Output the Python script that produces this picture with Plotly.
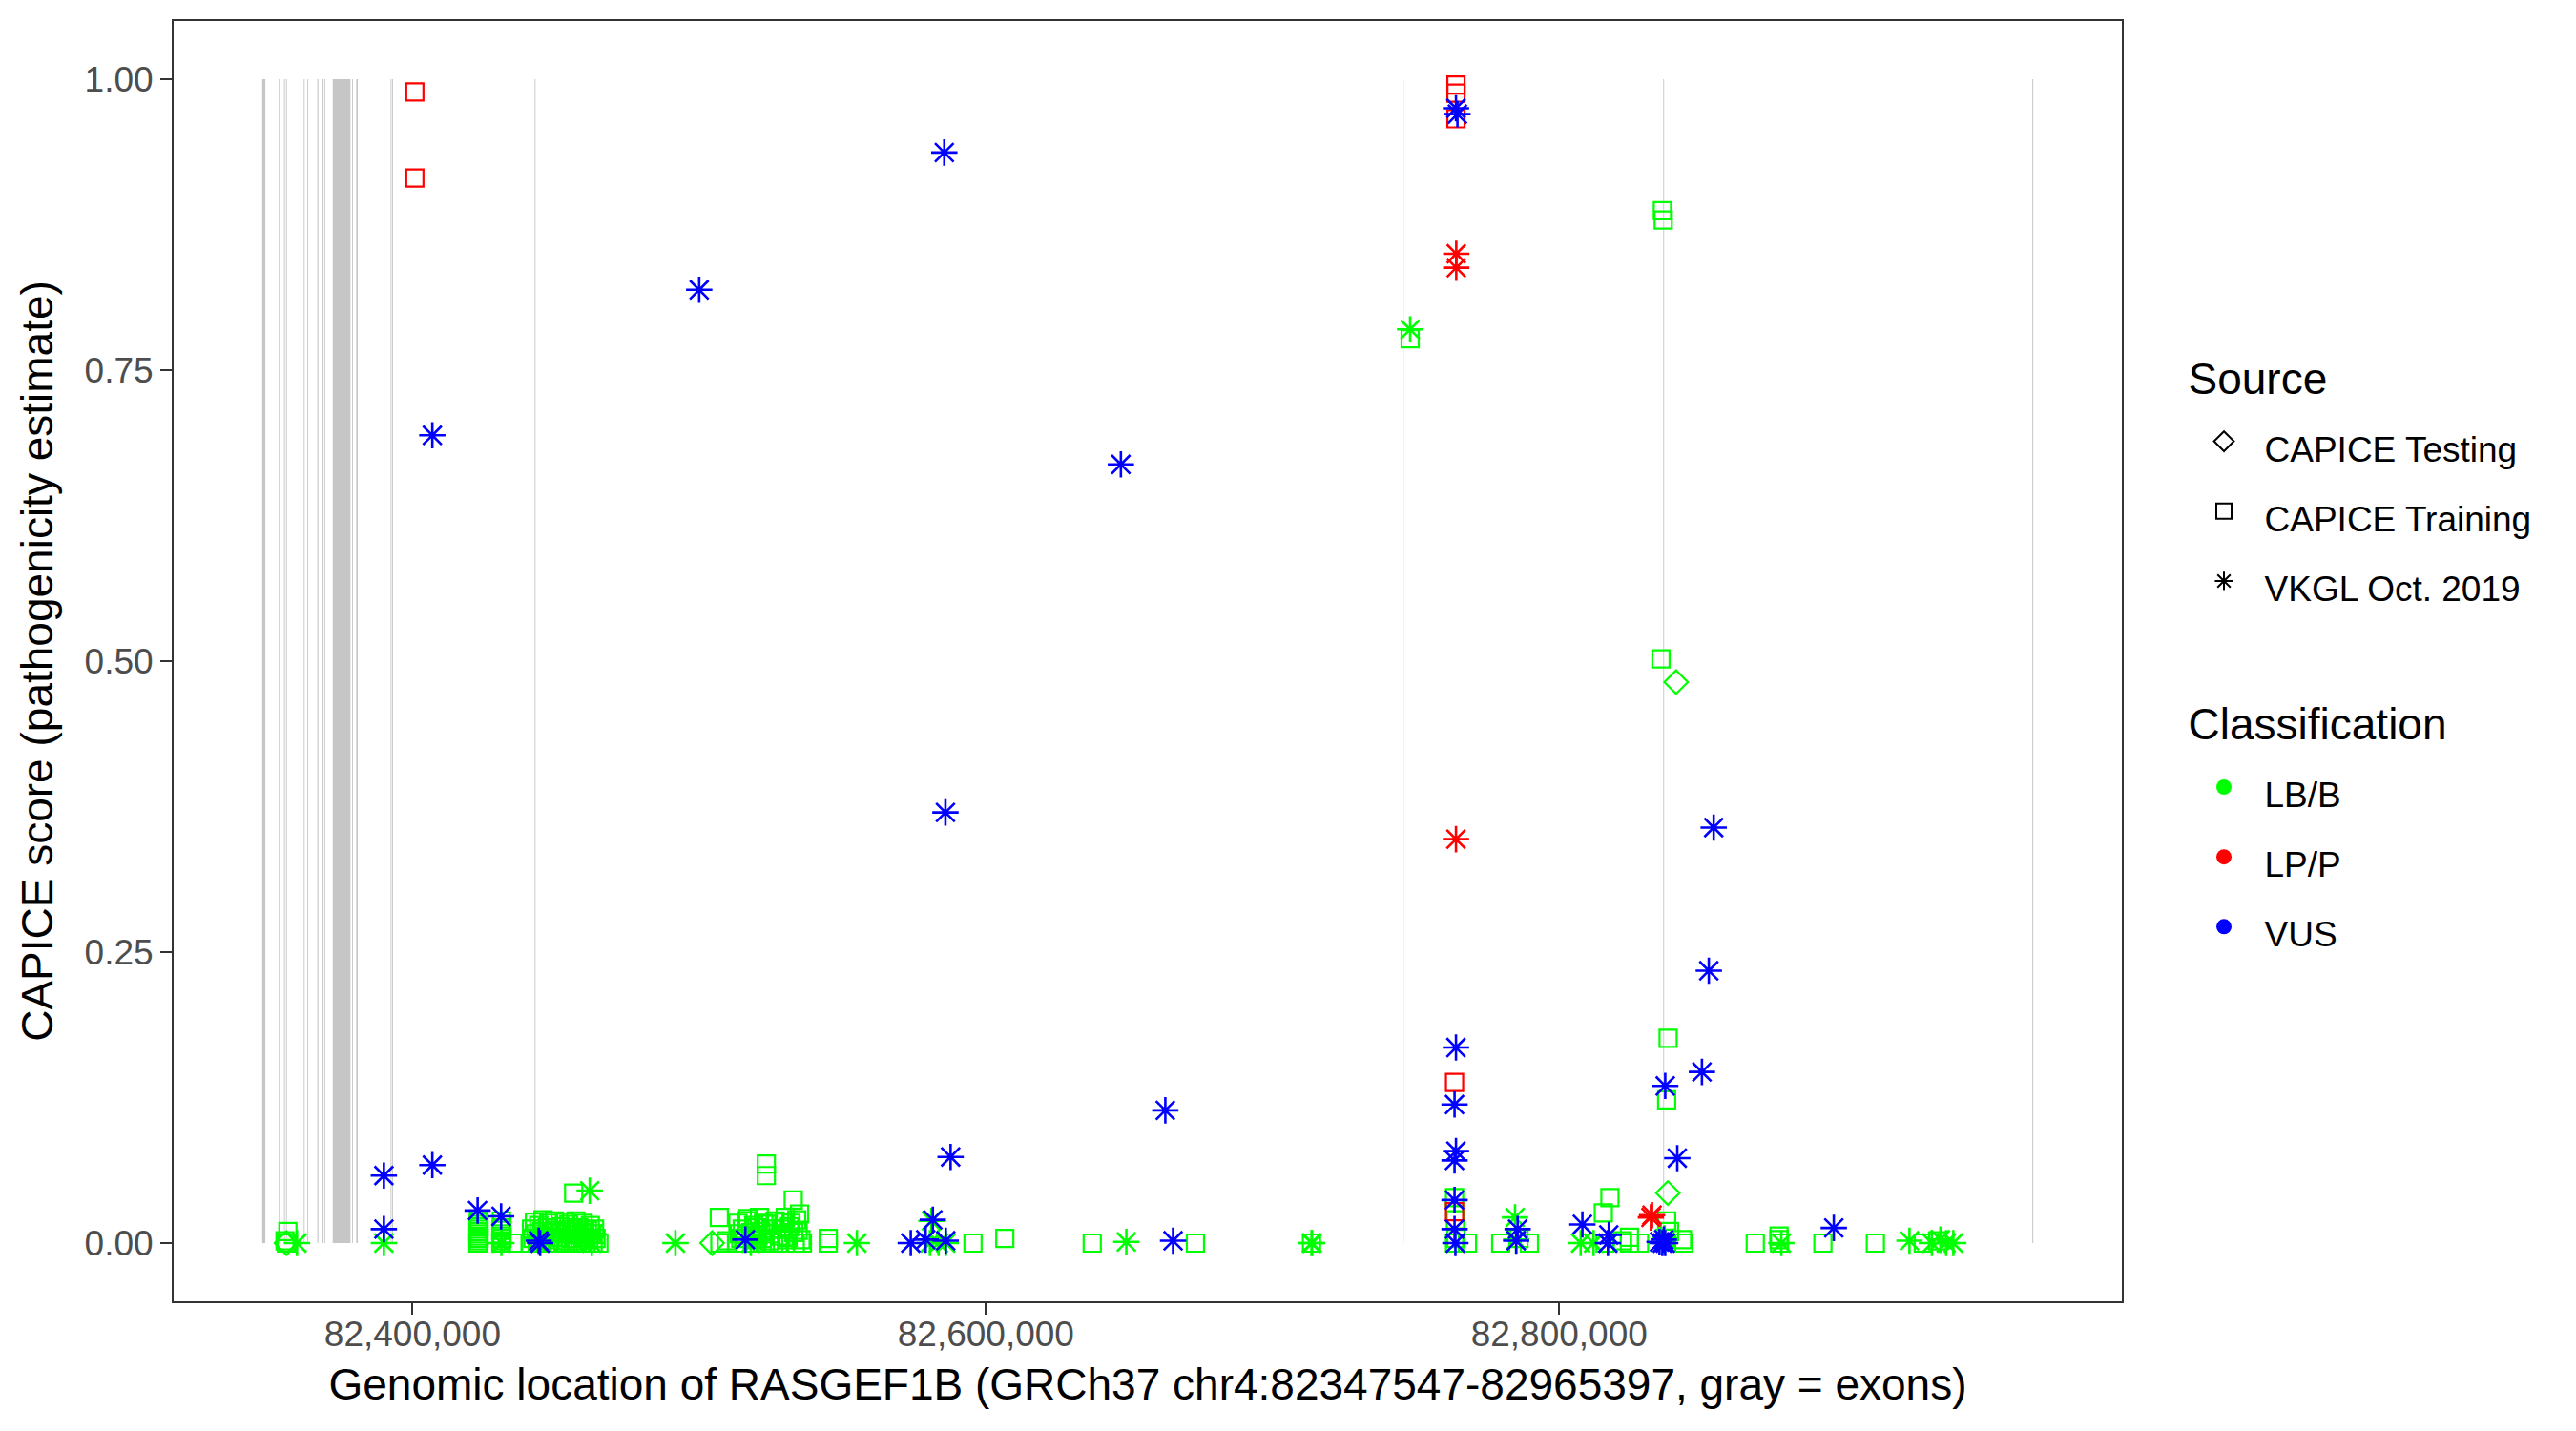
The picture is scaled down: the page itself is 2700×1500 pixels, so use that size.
import plotly.graph_objects as go

GREEN = "#00FF00"
RED = "#FF0000"
BLUE = "#0000FF"
FONT = "Liberation Sans, Arial, Helvetica, sans-serif"

# ---- exons (gray rectangles) ----
exon_start = [82347547, 82353350, 82355150, 82355850, 82362050, 82363300, 82366800,
              82368600, 82369200, 82372150, 82378900, 82380350, 82392350, 82392900,
              82442600, 82745800, 82836300, 82965050]
exon_end = [82348650, 82353650, 82355450, 82356150, 82362350, 82363600, 82367150,
            82368900, 82369500, 82378350, 82379200, 82380900, 82392650, 82393200,
            82442900, 82745870, 82836600, 82965397]

# ---- CAPICE Training, LB/B ----
train_lbb_pos = [82355500, 82356500, 82356000,
                 # column near 82.423 Mb
                 82422800, 82423000, 82423200, 82422900, 82423100, 82422800, 82423000,
                 82423200, 82422900, 82423100, 82423000,
                 # column near 82.431 Mb
                 82430800, 82431000, 82431200, 82430900, 82431100, 82430800, 82431000,
                 82431200, 82431000, 82435200,
                 # block 82.441-82.465 Mb
                 82441000, 82441500, 82442000, 82442500, 82443000, 82443500, 82444000,
                 82444500, 82445000, 82445500, 82446000, 82446500, 82447000, 82447500,
                 82448000, 82448500, 82449000, 82449500, 82450000, 82450500, 82451000,
                 82451500, 82452000, 82452500, 82453000, 82453500, 82454000, 82454500,
                 82455000, 82455500, 82456000, 82456500, 82457000, 82457500, 82458000,
                 82458500, 82459000, 82459500, 82460000, 82460500, 82461000, 82461500,
                 82462000, 82462500, 82463000, 82463500, 82464000, 82465000, 82456200,
                 82507000, 82507200, 82509500,
                 # block 82.513-82.527 Mb
                 82513000, 82513500, 82514000, 82514500, 82515000, 82516000, 82516500,
                 82517000, 82518000, 82518500, 82519000, 82519500, 82520000, 82520500,
                 82521000, 82521500, 82522000, 82522500, 82523000, 82523400, 82523400,
                 82524000, 82524500, 82525000, 82525500, 82526000, 82526500,
                 # block 82.528-82.536 Mb
                 82528000, 82528500, 82529000, 82529500, 82530000, 82530500, 82531000,
                 82531500, 82532000, 82532800, 82533000, 82533500, 82534000, 82534500,
                 82535000, 82535500, 82536000,
                 82545000, 82545000, 82595500, 82606600, 82637100, 82673100, 82713600,
                 82748000,
                 82763500, 82763500, 82764000, 82768000, 82763800,
                 82779600, 82789600, 82786000,
                 82815400, 82817700, 82816000, 82824500, 82824500, 82822000, 82828000,
                 82836000, 82836300, 82835500, 82838000, 82837500, 82837500, 82838500,
                 82843000, 82843500,
                 82868400, 82876700, 82876700, 82876900, 82892000, 82910300, 82927000,
                 82932000]
train_lbb_score = [0.002, 0.010, 0.000,
                   0.000, 0.002, 0.004, 0.006, 0.008, 0.010, 0.012,
                   0.014, 0.016, 0.018, 0.020,
                   0.000, 0.002, 0.004, 0.006, 0.008, 0.011, 0.013,
                   0.016, 0.019, 0.000,
                   0.000, 0.012, 0.004, 0.018, 0.008, 0.000, 0.015,
                   0.002, 0.010, 0.020, 0.006, 0.000, 0.013, 0.017,
                   0.003, 0.009, 0.000, 0.019, 0.011, 0.005, 0.000,
                   0.014, 0.008, 0.002, 0.018, 0.000, 0.010, 0.016,
                   0.004, 0.012, 0.000, 0.007, 0.019, 0.002, 0.013,
                   0.000, 0.009, 0.017, 0.005, 0.000, 0.011, 0.003,
                   0.015, 0.008, 0.000, 0.012, 0.004, 0.000, 0.043,
                   0.022, 0.000, 0.002,
                   0.000, 0.017, 0.008, 0.004, 0.012, 0.000, 0.019,
                   0.021, 0.009, 0.003, 0.015, 0.000, 0.013, 0.006,
                   0.022, 0.010, 0.004, 0.017, 0.000, 0.068, 0.058,
                   0.016, 0.002, 0.008, 0.012, 0.000, 0.019,
                   0.000, 0.006, 0.012, 0.018, 0.022, 0.003, 0.005,
                   0.014, 0.017, 0.037, 0.009, 0.000, 0.020, 0.011,
                   0.025, 0.003, 0.000,
                   0.004, 0.000, 0.000, 0.004, 0.000, 0.000, 0.000,
                   0.777,
                   0.039, 0.000, 0.004, 0.000, 0.020,
                   0.000, 0.000, 0.004,
                   0.026, 0.039, 0.000, 0.005, 0.000, 0.002, 0.000,
                   0.887, 0.879, 0.502, 0.176, 0.123, 0.019, 0.010,
                   0.003, 0.000,
                   0.000, 0.006, 0.003, 0.000, 0.000, 0.000, 0.000,
                   0.002]

# ---- CAPICE Training, LP/P ----
train_lpp_pos = [82400800, 82400800, 82764000, 82764000, 82764000, 82763500, 82763500]
train_lpp_score = [0.989, 0.915, 0.995, 0.988, 0.966, 0.138, 0.027]

# ---- CAPICE Testing, LB/B ----
test_lbb_pos = [82840800, 82837900, 82504500, 82356000]
test_lbb_score = [0.482, 0.043, 0.000, 0.000]

# ---- VKGL Oct. 2019, LB/B ----
vkgl_lbb_pos = [82359700, 82390000, 82431000, 82461800, 82463000, 82462500, 82491700,
                82518000, 82555000, 82580500, 82581000, 82583500, 82586000, 82649000,
                82713600, 82713800, 82748000, 82784600, 82785000, 82807500, 82812000,
                82836800, 82877500, 82922200, 82930000, 82933000, 82935000, 82937500]
vkgl_lbb_score = [0.000, 0.000, 0.000, 0.045, 0.008, 0.000, 0.000,
                  0.000, 0.000, 0.000, 0.019, 0.000, 0.000, 0.001,
                  0.000, 0.000, 0.785, 0.022, 0.003, 0.000, 0.000,
                  0.004, 0.000, 0.002, 0.000, 0.003, 0.000, 0.000]

# ---- VKGL Oct. 2019, LP/P ----
vkgl_lpp_pos = [82764100, 82764100, 82764000, 82832400, 82832000]
vkgl_lpp_score = [0.850, 0.838, 0.347, 0.024, 0.022]

# ---- VKGL Oct. 2019, VUS ----
vkgl_vus_pos = [82390000, 82390000, 82406900, 82406900, 82422700, 82430900, 82444000,
                82444500, 82500000, 82516100, 82573800, 82581500, 82579000, 82585500,
                82585900, 82587700, 82586000, 82647100, 82662600, 82665300, 82764000,
                82764500, 82764000, 82763500, 82764000, 82763500, 82763500, 82763500,
                82763800, 82785500, 82785000, 82808100, 82817300, 82817000, 82837000,
                82841200, 82849800, 82852200, 82853900, 82835000, 82836000, 82836500,
                82837000, 82895800]
vkgl_vus_score = [0.058, 0.012, 0.694, 0.067, 0.028, 0.023, 0.002,
                  0.000, 0.819, 0.003, 0.000, 0.020, 0.003, 0.937,
                  0.370, 0.074, 0.002, 0.669, 0.114, 0.002, 0.975,
                  0.970, 0.168, 0.119, 0.079, 0.071, 0.037, 0.012,
                  0.000, 0.012, 0.002, 0.016, 0.007, 0.000, 0.135,
                  0.073, 0.147, 0.234, 0.357, 0.001, 0.000, 0.003,
                  0.000, 0.013]

x_range = [82316655, 82996289]
y_range = [-0.05, 1.05]
x_ticks = [82400000, 82600000, 82800000]
y_ticks = [0, 0.25, 0.5, 0.75, 1.0]

source_names = ["CAPICE Testing", "CAPICE Training", "VKGL Oct. 2019"]
source_symbols = ["diamond-open", "square-open", "asterisk-open"]
class_names = ["LB/B", "LP/P", "VUS"]
class_colors = [GREEN, RED, BLUE]

SYM_SIZE = {"diamond-open": 19, "square-open": 18, "asterisk-open": 23}
SYM_LW = {"diamond-open": 2.2, "square-open": 2.2, "asterisk-open": 2.6}

fig = go.Figure()

for s, e in zip(exon_start, exon_end):
    fig.add_shape(type="rect", xref="x", yref="y", x0=s, x1=e, y0=0, y1=1,
                  fillcolor="#C6C6C6", line=dict(width=0), layer="below")


def add_points(pos, score, symbol, color):
    fig.add_trace(go.Scatter(
        x=pos, y=score, mode="markers", showlegend=False, hoverinfo="x+y",
        marker=dict(symbol=symbol, size=SYM_SIZE[symbol], color=color,
                    line=dict(width=SYM_LW[symbol], color=color))))


add_points(train_lbb_pos, train_lbb_score, "square-open", GREEN)
add_points(test_lbb_pos, test_lbb_score, "diamond-open", GREEN)
add_points(vkgl_lbb_pos, vkgl_lbb_score, "asterisk-open", GREEN)
add_points(train_lpp_pos, train_lpp_score, "square-open", RED)
add_points(vkgl_lpp_pos, vkgl_lpp_score, "asterisk-open", RED)
add_points(vkgl_vus_pos, vkgl_vus_score, "asterisk-open", BLUE)

LEG_SPAN = '<span style="font-size:37px">{}</span>'
for i, (name, sym) in enumerate(zip(source_names, source_symbols)):
    fig.add_trace(go.Scatter(
        x=[None], y=[None], mode="markers", name=LEG_SPAN.format(name),
        legendgroup="source", legendrank=1 + i,
        legendgrouptitle=dict(text="Source", font=dict(size=46, color="black", family=FONT)),
        marker=dict(symbol=sym, size=16, color="black", line=dict(width=2, color="black"))))
for i, (name, col) in enumerate(zip(class_names, class_colors)):
    fig.add_trace(go.Scatter(
        x=[None], y=[None], mode="markers", name=LEG_SPAN.format(name),
        legendgroup="class", legendrank=10 + i,
        legendgrouptitle=dict(text="Classification", font=dict(size=46, color="black", family=FONT)),
        marker=dict(symbol="circle", size=16, color=col, line=dict(width=0))))

fig.update_layout(
    width=2684, height=1484,
    margin=dict(l=174, r=468, t=14, b=128, autoexpand=False),
    paper_bgcolor="white", plot_bgcolor="white",
    font=dict(family=FONT, color="black"),
    legend=dict(x=1.0316, xanchor="left", y=0.7495, yanchor="top",
                font=dict(size=54, family=FONT, color="black"),
                traceorder="grouped", tracegroupgap=80, itemwidth=75,
                bgcolor="rgba(0,0,0,0)"),
    xaxis=dict(range=x_range, tickvals=x_ticks, tickformat=",d", showgrid=False,
               zeroline=False, showline=True, mirror=True, linecolor="#333333",
               linewidth=2, ticks="outside", ticklen=12, tickwidth=2, tickcolor="#333333",
               ticklabelstandoff=-11,
               tickfont=dict(size=37, color="#4D4D4D", family=FONT),
               title=dict(text="Genomic location of RASGEF1B (GRCh37 chr4:82347547-82965397, gray = exons)",
                          font=dict(size=46, color="black", family=FONT), standoff=16),
               automargin=False),
    yaxis=dict(range=y_range, tickvals=y_ticks, tickformat=".2f", showgrid=False,
               zeroline=False, showline=True, mirror=True, linecolor="#333333",
               linewidth=2, ticks="outside", ticklen=12, tickwidth=2, tickcolor="#333333",
               tickfont=dict(size=37, color="#4D4D4D", family=FONT),
               title=dict(text="CAPICE score (pathogenicity estimate)",
                          font=dict(size=46, color="black", family=FONT), standoff=18),
               automargin=False),
)

fig.write_html("out.html")
